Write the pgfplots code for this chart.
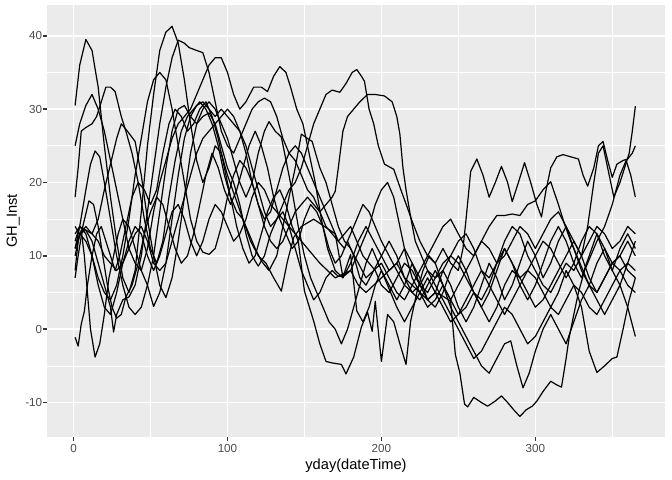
\documentclass[border=0pt]{standalone}
\usepackage{pgfplots}
\pgfplotsset{compat=1.18}
\usepackage{fontspec}
\setmainfont{Liberation Sans}
\definecolor{panelbg}{HTML}{EBEBEB}
\definecolor{gray30}{HTML}{4D4D4D}
\definecolor{gray20}{HTML}{333333}
\begin{document}
\begin{tikzpicture}
\begin{axis}[
 scale only axis, width=618bp, height=432bp,
 xmin=-17.25, xmax=384.25, ymin=-14.7, ymax=44.2,
 axis background/.style={fill=panelbg},
 axis line style={draw=none},
 xtick={0,100,200,300}, ytick={-10,0,10,20,30,40},
 minor xtick={50,150,250,350}, minor ytick={-5,5,15,25,35},
 grid=both,
 major grid style={white, line width=1.42bp},
 minor grid style={white, line width=0.71bp},
 tick style={color=gray20, line width=1.42bp},
 major tick length=3.65bp, minor tick length=0bp,
 tick align=outside, tick pos=left,
 /pgf/number format/assume math mode=true,
 ticklabel style={font=\fontsize{11.7}{13}\selectfont, text=gray30},
 xticklabel style={inner sep=1bp, yshift=-3bp},
 yticklabel style={inner sep=1bp},
 label style={font=\fontsize{14.7}{16}\selectfont},
 xlabel={yday(dateTime)}, ylabel={GH\_Inst},
 xlabel style={yshift=-1bp},
 ylabel style={yshift=1bp},
 every axis plot post/.append style={black, solid, line width=1.2bp, line join=round, mark=none},
]
% S1
\addplot coordinates {(1,30.5)(4,36)(8,39.5)(12,38)(16,33)(20,25)(24,18)(28,12)(32,7)(36,5)(40,8)(44,16)(48,25)(52,32)(56,38)(60,40.5)(64,41.3)(68,39)(72,34)(76,28)(80,23)(84,20)(88,22)(92,25)(96,24)(100,21)(105,18)(110,15)(115,12)(120,10)(125,9)(130,7)(135,5.2)(139,9.3)(143,12.5)(148,14)(156,15)(163,14)(170,13)(175,7.1)(180,10.2)(184,2.5)(188,1)(192,3)(196,6)(200,8)(205,6)(210,4)(215,6)(220,9)(225,7)(230,4)(235,5)(240,8)(245,6)(250,3)(255,1)(260,3)(265,6)(270,9)(275,7)(280,4)(285,6)(290,9)(295,12)(300,10)(305,7)(310,9)(315,12)(320,14)(325,11)(330,8)(335,6)(340,9)(345,11)(350,8)(355,6)(360,9)(365,12)};
% S2
\addplot coordinates {(1,25)(4,28)(8,30.5)(12,32)(16,30)(20,27)(24,23)(28,19)(32,15)(36,11)(40,9)(44,8)(48,11)(52,16)(56,20)(60,23)(64,26)(68,28)(72,29)(76,30)(80,32)(84,34)(88,36)(92,37)(96,37)(100,35)(104,32)(108,30)(112,31)(117,33)(122,33)(126,32.4)(130,34.5)(134,35.8)(138,35)(141,33)(145,30)(149,28)(153,24)(157,20)(161,15)(165,11)(170,8)(175,7)(180,9)(185,12)(190,14)(195,12)(200,10)(205,8)(210,9)(215,11)(220,9)(225,6)(230,4)(235,3)(240,5)(245,8)(250,10)(255,8)(260,5)(265,3)(270,5)(275,8)(280,11)(285,9)(290,6)(295,4)(300,6)(305,9)(310,12)(315,14)(320,12)(325,9)(330,7)(335,10)(340,13)(345,10)(350,8)(355,11)(360,13)(365,11)};
% S3
\addplot coordinates {(1,18)(3,22)(5,27)(8,27.5)(12,28)(15,29)(18,31)(21,33)(24,33)(27,32.4)(31,29)(34,27)(38,24)(42,20)(46,15)(50,11)(54,9)(58,12)(62,18)(66,23)(70,27)(74,29)(78,30)(82,31)(86,30)(90,28)(94,25)(98,21)(102,18)(106,16)(110,15)(114,13)(118,11)(122,9.3)(127,8)(132,10)(136,14)(140,18)(144,22)(148,26.6)(152,26)(155,25.6)(160,22)(164,20)(168,17)(172,14)(176,12)(180,11)(185,9)(190,7)(195,8)(200,10)(205,12)(210,10)(215,7)(220,5)(225,4)(230,6)(235,8)(240,6)(245,3)(250,1)(255,-1)(260,-3)(265,-5)(270,-6)(275,-4)(280,-2)(284,-1.6)(288,-5)(292,-8)(296,-6)(300,-3)(305,0)(310,2)(315,0)(320,-2)(325,1)(330,4)(335,6)(340,4)(345,2)(350,4)(355,6)(360,3)(365,-1)};
% S4
\addplot coordinates {(1,12)(4,14)(8,13.5)(12,13)(16,15)(20,19)(24,22.5)(28,26)(31,28)(35,27)(40,25.6)(44,21)(48,15)(52,10)(56,6)(60,4.3)(64,7)(68,12)(72,18)(76,24)(80,28)(84,30)(88,31)(92,30)(96,28)(100,26)(104,23)(108,20)(112,18)(116,20)(120,24)(124,27)(127,28.3)(131,27)(135,26.2)(139,22)(142,18.8)(146,14)(150,10)(154,7)(158,5)(162,3)(166,1)(170,0)(174,-2)(178,0)(182,3)(186,6)(190,9)(194,11)(198,9)(202,7)(206,5)(210,3)(215,1)(220,3)(225,5)(230,7)(235,5)(240,3)(245,1)(250,2)(255,4)(260,6)(265,8)(270,6)(275,4)(280,2)(285,4)(290,6)(295,8)(300,7)(305,5)(310,3)(315,5)(320,8)(325,6)(330,3)(335,-3)(340,-5.9)(345,-5)(350,-4)(353,-3.8)(357,0)(361,4)(365,7)};
% S5
\addplot coordinates {(1,11)(4,14)(8,19)(11,22.5)(14,24.3)(17,23.5)(20,20)(24,15)(28,10)(32,6)(36,3)(40,2)(44,3)(48,6)(52,10)(56,16)(60,22)(64,27)(68,30)(72,30.5)(76,29)(80,28)(84,29)(88,29.5)(92,28)(96,25)(100,22)(104,20)(108,17)(112,13)(116,10)(120,8.6)(124,10)(128,13)(132,15)(136,16)(140,14)(144,11)(148,8)(152,6)(156,4)(160,5)(164,7)(168,8)(172,7.2)(176,7.3)(180,8)(184,10)(188,12)(192,14)(196,17)(200,19)(204,20)(208,18)(212,14)(216,10)(220,7)(225,5)(230,3)(235,4)(240,6)(245,4)(250,2)(255,3)(260,5)(265,3)(270,1)(275,3)(280,6)(285,8)(290,7)(295,5)(300,3)(305,4)(310,6)(315,8)(320,10)(325,12)(330,10)(335,7)(340,5)(345,7)(350,9)(355,8)(360,6)(365,5)};
% S6
\addplot coordinates {(1,7)(3,10)(6,14)(10,17.5)(13,17)(16,14)(19,10)(22,6)(25,3)(28,1.5)(31,2)(34,4.4)(38,6)(42,9)(46,13)(50,16)(54,18)(58,17)(62,14)(66,11)(70,9)(74,10)(78,13)(82,17)(86,21)(90,24)(94,22)(98,19)(102,17)(106,19)(110,22)(114,25)(118,27)(122,25)(126,22)(130,18)(134,15)(138,13)(142,11)(146,12)(150,15)(154,17)(158,16)(162,14)(166,11)(170,9)(174,10)(178,12)(182,10)(186,7)(190,6)(195,8)(200,9)(205,7)(210,5)(215,4)(220,6)(225,8)(230,10)(235,12)(240,14)(245,15)(250,13)(255,11)(260,10)(265,12)(270,14)(275,15.5)(280,15.5)(285,15.7)(290,15.5)(295,17)(300,17.5)(305,19)(310,20.1)(315,17)(319,14.3)(323,12)(327,10)(331,8)(335,6)(340,5)(345,7)(350,9)(355,10)(360,8)(365,7)};
% S7
\addplot coordinates {(1,-1.1)(3,-2.3)(5,0.7)(7,2.4)(9,6)(12,10)(15,13)(18,14)(21,12)(24,10)(27,8)(30,10)(34,14)(38,18)(42,20)(46,19)(50,17)(54,19)(58,24)(62,28)(66,30)(70,29)(74,27)(78,28)(82,30)(86,31)(90,29)(94,26)(98,22)(102,18)(106,14)(110,11)(114,9)(118,10)(122,13)(126,16)(130,18)(134,19)(138,17)(142,14)(146,12)(150,5.2)(156,1.1)(160,-2)(164,-4.4)(168,-4.6)(174,-4.8)(177,-6.1)(182,-3.8)(187,0.3)(191,2.3)(194,-0.3)(196,3.8)(200,-4.4)(204,2)(208,1)(212,-2)(216,-4.8)(219,1.1)(223,5)(227,8)(231,10)(235,9)(240,6)(245,4)(250,6)(255,8)(260,10)(265,12)(270,11)(275,9)(280,10)(285,12)(290,14)(295,13)(300,11)(305,13)(310,15)(315,16)(320,14)(325,12)(330,10)(335,12)(340,14)(345,13)(350,11)(355,12)(360,14)(365,13)};
% S8
\addplot coordinates {(1,8)(3,12)(5,13.5)(7,10)(9,5)(11,0)(14,-3.8)(17,-2)(20,2)(23,7)(26,10)(29,13)(32,15)(36,14)(40,11)(44,8)(48,6)(52,3.1)(56,5)(60,9)(64,15)(68,21)(72,26)(76,29)(80,30.5)(84,31)(88,30)(92,29)(96,30)(100,29)(104,28)(108,27)(112,25)(116,22)(120,19)(124,16)(128,14)(132,15)(136,17)(140,19)(144,20)(148,22)(152,25)(156,28)(160,30)(164,32)(168,32.6)(173,32.3)(177,33.5)(181,35)(184,35.4)(187,34.5)(189,33.8)(192,30)(195,28)(198,25)(202,22.5)(208,21.8)(213,18.8)(217,16.5)(220,14.7)(225,12)(230,10)(235,9)(240,11)(245,9)(250,8)(253,11)(255,15)(258,21.5)(262,23.2)(266,21)(270,18)(274,20)(278,22.2)(282,20)(285,17.4)(289,20)(293,22.7)(297,20)(301,17)(304,15.3)(307,19)(310,22)(314,23.5)(318,23.8)(323,23.5)(328,23.2)(331,21)(334,19.5)(338,22)(341,25)(344,25.6)(347,23)(350,20.7)(353,22.5)(357,23)(360,23.2)(363,24)(365,25)};
% S9
\addplot coordinates {(1,10)(4,13)(8,13.5)(12,12)(16,9)(20,6)(24,3)(26,-0.4)(28,2)(32,4)(36,4.4)(40,6)(44,10)(48,16)(52,22)(56,28)(60,33)(64,37)(68,39.4)(72,39)(75,38.4)(80,38)(84,37.7)(88,35)(92,31)(96,27)(100,25)(104,24)(108,26)(112,28)(116,30)(120,31)(124,31.5)(128,31)(132,29)(136,26)(140,24)(144,23)(148,21)(152,19)(156,18)(160,16)(164,14)(168,13)(172,12)(176,13)(180,14)(184,12)(188,10)(192,9)(196,8)(200,6)(205,5)(210,7)(215,9)(220,8)(225,6)(230,5)(235,7)(240,9)(245,10)(250,9)(255,7)(260,5)(265,4)(270,6)(275,9)(280,12)(285,14)(290,13)(295,10)(300,8)(305,6)(310,5)(315,7)(320,9)(325,8)(330,10)(334,14)(338,20)(341,24)(344,25)(347,22)(351,18)(355,20)(358,22)(361,24)(363,27)(365,30.4)};
% S10
\addplot coordinates {(1,14)(4,13)(8,12)(12,10)(16,7)(20,5)(24,4)(28,6)(32,10)(36,15)(40,21)(44,26)(48,31)(52,34)(56,35)(60,34)(64,30)(68,25)(72,20)(76,15)(80,12)(84,10.5)(88,10.2)(92,11)(96,14)(100,18)(104,21)(108,23)(112,22)(116,20)(120,17)(124,14)(128,12)(132,11)(136,12)(140,14)(144,16)(148,17)(152,18)(156,17)(160,16)(164,17)(168,18)(170,18.8)(172,22)(175,27)(178,29)(182,30)(186,31)(191,32)(196,32)(202,31.8)(207,31)(210,29)(212,26.6)(214,22)(216,19)(219,15.3)(222,12)(226,10)(230,8)(235,7)(240,8)(245,10)(250,12)(255,13)(260,11)(265,8)(270,7)(275,9)(280,11)(285,9)(290,7)(295,8)(300,10)(305,12)(310,11)(315,9)(320,7)(325,9)(330,12)(335,14)(340,13)(345,11)(350,9)(355,10)(360,12)(365,10)};
% S11
\addplot coordinates {(1,13)(4,14)(8,13)(12,10)(16,6)(20,3)(24,2)(28,5)(32,9)(36,12)(40,14)(44,13)(48,10)(52,8)(56,10)(60,13)(64,16)(68,17)(72,15)(76,12)(80,10)(84,12)(88,15)(92,17)(96,16)(100,14)(104,12)(108,13)(112,15)(116,18)(120,20)(124,19)(128,17)(132,16)(136,15)(140,14)(144,13)(148,12)(152,11)(156,10)(160,9)(165,8)(170,7)(175,7.5)(180,8)(185,6)(190,5)(195,6)(200,7)(205,8)(210,9)(215,7)(220,6)(225,5)(230,4)(235,5)(240,4.5)(245,3.8)(248,-3.4)(251,-6)(254,-10.2)(256,-10.6)(260,-9.3)(265,-10)(269,-10.5)(274,-9.8)(278,-9.1)(282,-10)(286,-11)(290,-11.9)(294,-11)(298,-10.5)(301,-9.8)(305,-8.5)(310,-7.1)(314,-7.6)(317,-7.9)(320,-4)(322,-1.1)(325,2)(328,5)(332,8)(336,10)(340,12)(345,14)(350,17)(355,21)(359,23)(362,21)(365,18)};
% S12
\addplot coordinates {(1,11)(4,13)(8,14)(12,13)(16,12)(20,10)(24,9)(28,8)(32,9)(36,11)(40,13)(44,14)(48,12)(52,9)(56,8)(60,9)(64,12)(68,15)(72,18)(76,21)(80,24)(84,26)(88,27)(92,28)(96,29)(100,30)(104,29)(108,27)(112,24)(116,20)(120,17)(124,15)(128,16)(132,19)(136,22)(140,24)(144,25)(148,24)(152,22)(156,20)(160,18)(164,16)(168,14)(172,12)(176,11)(180,13)(184,15)(188,17)(192,16)(196,14)(200,12)(205,10)(210,8)(215,6)(220,5)(225,6)(230,8)(235,6)(240,4)(245,2)(250,0)(255,-2)(260,-4)(265,-3)(270,-1)(275,1)(280,3)(285,2)(290,0)(295,-2)(300,-1)(305,1)(310,3)(315,2)(320,4)(325,6)(330,5)(335,3)(340,2)(345,4)(350,6)(355,8)(360,9)(365,8)};
\end{axis}
\pgfresetboundingbox
\useasboundingbox ([xshift=-47bp,yshift=-43bp]current axis.south west) rectangle ([xshift=7bp,yshift=5bp]current axis.north east);
\end{tikzpicture}
\end{document}
